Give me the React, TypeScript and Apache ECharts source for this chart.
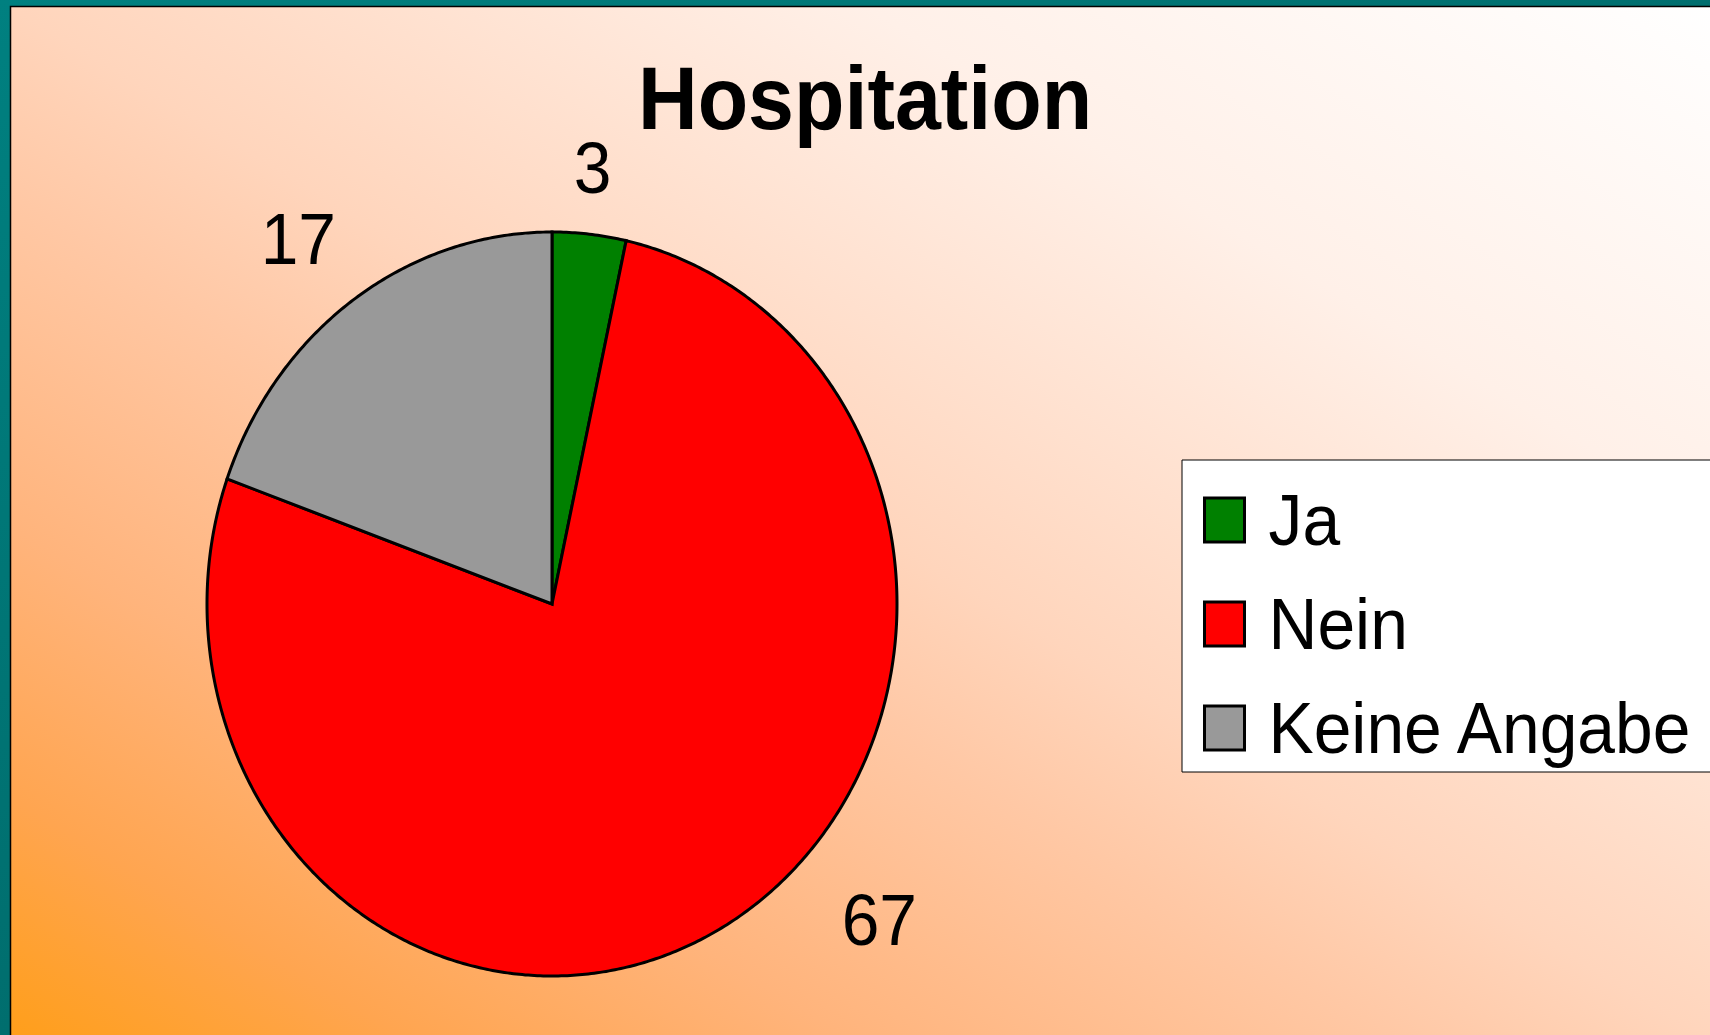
import React, { useEffect, useRef } from "react";
import * as echarts from "echarts";

// ---- data ----
const CATEGORIES = ["Ja", "Nein", "Keine Angabe"];
const VALUES = [3, 67, 17];
const COLORS = ["#008000", "#FF0000", "#999999"];
const TITLE = "Hospitation";

const FONT = "'Liberation Sans', Arial, sans-serif";
const NARROW = 0.928; // the original picture is squeezed horizontally

export default function App() {
  const ref = useRef<HTMLDivElement>(null);

  useEffect(() => {
    const chart = echarts.init(ref.current as HTMLDivElement, null, { renderer: "svg" });

    const total = VALUES.reduce((a, b) => a + b, 0);
    const starts = VALUES.map((_, i) => VALUES.slice(0, i).reduce((a, b) => a + b, 0));

    // pie ellipse geometry
    const CX = 552, CY = 604, RX = 345, RY = 372;
    const LD = 30; // label distance
    const LD_MOVED = 45; // label distance once a label had to be turned aside
    const LFS = 73; // label font size
    const BOTTOM_LIMIT = 958;

    const labelAnchor = (theta: number, d: number) => {
      const s = Math.sin(theta), c = Math.cos(theta);
      const x = CX + (RX + d) * s;
      const y = CY - (RY + d) * c;
      const align = Math.abs(s) < 0.3 ? "center" : s > 0 ? "left" : "right";
      const vAlign = Math.abs(c) < 0.3 ? "middle" : c > 0 ? "bottom" : "top";
      const bottom = vAlign === "top" ? y + LFS : vAlign === "middle" ? y + LFS / 2 : y;
      return { x, y, align, vAlign, bottom };
    };

    const series = CATEGORIES.map((name, i) => ({
      type: "custom",
      name,
      coordinateSystem: "none",
      itemStyle: { color: COLORS[i], borderColor: "#000", borderWidth: 3 },
      data: [[VALUES[i]]],
      renderItem: (_params: any, api: any) => {
        const v = api.value(0) as number;
        const a0 = (starts[i] / total) * Math.PI * 2;
        const a1 = a0 + (v / total) * Math.PI * 2;
        const pts: number[][] = [[CX, CY]];
        const steps = Math.max(4, Math.ceil(((a1 - a0) * 180) / Math.PI) * 2);
        for (let k = 0; k <= steps; k++) {
          const t = a0 + ((a1 - a0) * k) / steps;
          pts.push([CX + RX * Math.sin(t), CY - RY * Math.cos(t)]);
        }
        // label: outside at the mid angle, turned toward the side if it would leave the area
        let theta = (a0 + a1) / 2;
        let anc = labelAnchor(theta, LD);
        if (anc.bottom > BOTTOM_LIMIT) {
          let guard = 0;
          anc = labelAnchor(theta, LD_MOVED);
          while (anc.bottom > BOTTOM_LIMIT && guard < 240) {
            const s = Math.sin(theta);
            theta += (s > 0 ? -0.5 : 0.5) * (Math.PI / 180);
            anc = labelAnchor(theta, LD_MOVED);
            guard++;
          }
        }
        return {
          type: "group",
          children: [
            {
              type: "polygon",
              shape: { points: pts },
              style: { fill: COLORS[i], stroke: "#000", lineWidth: 3, lineJoin: "miter" },
            },
            {
              type: "text",
              x: anc.x,
              y: anc.y,
              scaleX: NARROW,
              style: {
                text: String(v),
                fill: "#000",
                fontSize: LFS,
                fontFamily: FONT,
                lineHeight: LFS,
                align: anc.align,
                verticalAlign: anc.vAlign,
                textAlign: anc.align,
                textVerticalAlign: anc.vAlign,
              },
            },
          ],
        };
      },
    }));

    chart.setOption({
      animation: false,
      title: {
        text: TITLE,
        left: 638,
        top: 53,
        padding: 0,
        textStyle: { fontSize: 89, fontWeight: "bold", fontFamily: FONT, color: "#000", lineHeight: 89 },
      },
      legend: {
        orient: "vertical",
        left: 1182,
        top: 460,
        itemWidth: 40,
        itemHeight: 44,
        itemGap: 21,
        icon: "rect",
        padding: [18.5, 120, 2.5, 21],
        backgroundColor: "#ffffff",
        borderColor: "#000",
        borderWidth: 1,
        borderRadius: 0,
        data: CATEGORIES,
        textStyle: { fontSize: 73, fontFamily: FONT, color: "#000", lineHeight: 60, padding: [0, 0, 23, 20.5] },
        itemStyle: { borderColor: "#000", borderWidth: 3 },
      },
      graphic: [
        {
          type: "rect",
          z: -20,
          silent: true,
          shape: { x: 0, y: 0, width: 1710, height: 1035 },
          style: {
            fill: new echarts.graphic.LinearGradient(0, 0, 1, 1, [
              { offset: 0, color: "#008080" },
              { offset: 1, color: "#005c5c" },
            ]),
          },
        },
        {
          type: "rect",
          z: -19,
          silent: true,
          shape: { x: 10.5, y: 6.5, width: 1710, height: 1040 },
          style: {
            stroke: "#000",
            lineWidth: 1.5,
            fill: new echarts.graphic.LinearGradient(0, 1, 1, 0, [
              { offset: 0, color: "#FF9E18" },
              { offset: 0.12, color: "#FFA550" },
              { offset: 0.25, color: "#FFB47C" },
              { offset: 0.41, color: "#FFC8A5" },
              { offset: 0.5, color: "#FFD5BC" },
              { offset: 0.75, color: "#FFF0E8" },
              { offset: 1, color: "#FFFFFF" },
            ]),
          },
        },
      ],
      series,
    });

    // squeeze the title and legend texts horizontally like the original picture
    const narrowTexts = new Set<string>([TITLE, ...CATEGORIES]);
    const zr: any = chart.getZr();
    zr.storage.getRoots().forEach((root: any) => {
      const visit = (el: any) => {
        if (el && el.type === "text" && el.style && narrowTexts.has(el.style.text)) {
          el.originX = el.style.x || 0;
          el.originY = el.style.y || 0;
          el.scaleX = NARROW;
          el.markRedraw && el.markRedraw();
        }
      };
      if (root.traverse) root.traverse(visit);
      else visit(root);
    });
    zr.refreshImmediately();

    return () => chart.dispose();
  }, []);

  return (
    <div
      ref={ref}
      style={{ position: "fixed", left: 0, top: 0, width: 1710, height: 1035 }}
    />
  );
}
